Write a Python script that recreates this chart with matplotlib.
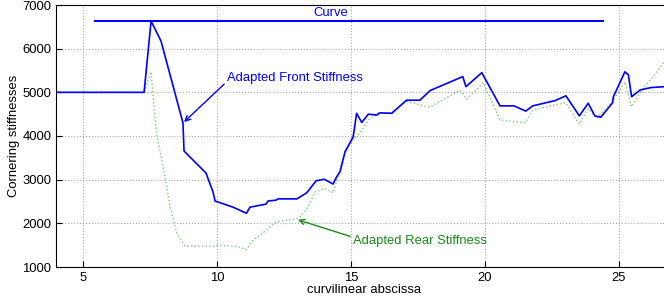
import matplotlib
matplotlib.use("Agg")
import matplotlib.pyplot as plt

plt.rcParams["font.family"] = ["Liberation Sans", "DejaVu Sans"]

# front stiffness (solid blue)
front_x = [4.0, 7.28, 7.54, 7.91, 8.73, 8.77, 9.59, 9.85, 9.93, 10.6, 11.1, 11.23,
           11.83, 11.9, 12.2, 12.28, 12.98, 13.35, 13.7, 14.0, 14.33, 14.46, 14.59,
           14.78, 15.08, 15.21, 15.4, 15.65, 15.96, 16.08, 16.52, 17.07, 17.57, 17.95,
           19.17, 19.29, 19.88, 20.56, 21.08, 21.52, 21.78, 22.61, 23.02, 23.52, 23.85,
           24.1, 24.32, 24.76, 24.79, 25.22, 25.35, 25.47, 25.78, 25.97, 26.21, 26.7]
front_y = [5000, 5000, 6633, 6175, 4300, 3656, 3150, 2720, 2510, 2370, 2230, 2370,
           2440, 2510, 2530, 2560, 2560, 2700, 2975, 3010, 2900, 3060, 3180,
           3640, 3980, 4520, 4310, 4500, 4480, 4530, 4520, 4820, 4820, 5040,
           5360, 5130, 5450, 4690, 4690, 4570, 4690, 4810, 4920, 4460, 4750,
           4460, 4430, 4760, 4900, 5470, 5400, 4900, 5050, 5080, 5110, 5130]

# rear stiffness (dotted green)
rear_x = [4.0, 7.28, 7.54, 7.74, 7.99, 8.25, 8.5, 8.81, 9.86, 9.99, 10.73, 11.1,
          11.36, 11.86, 12.23, 13.03, 13.35, 13.66, 14.03, 14.34, 14.46, 14.78, 15.08,
          15.4, 15.65, 16.02, 16.52, 17.07, 17.95, 19.07, 19.32, 19.94, 20.56, 21.49,
          21.8, 23.02, 23.52, 23.85, 24.16, 24.79, 25.22, 25.47, 25.84, 26.28, 26.7]
rear_y = [5000, 5000, 5470, 4060, 3300, 2380, 1770, 1480, 1470, 1500, 1470, 1400,
          1620, 1850, 2040, 2110, 2320, 2720, 2800, 2700, 2950, 3680, 3910,
          4120, 4370, 4530, 4530, 4790, 4660, 5050, 4840, 5220, 4370, 4300,
          4600, 4760, 4270, 4630, 4400, 4820, 5240, 4670, 5050, 5360, 5720]

# reference curve level
curve_x = [5.45, 24.39]
curve_y = [6630, 6630]

fs = 9.4

fig = plt.figure(figsize=(6.64, 3.05), dpi=100)
ax = fig.add_axes([56.2 / 664, 38 / 305, 616.4 / 664, 262 / 305])

ax.plot(rear_x, rear_y, color="#2ca02c", linestyle=":", linewidth=1.0, alpha=0.6)
ax.plot(front_x, front_y, color="#0000ff", linewidth=1.2)
ax.plot(curve_x, curve_y, color="#0000ff", linewidth=1.5)

ax.text(14.25, 6690, "Curve", color="#0000ff", fontsize=fs, ha="center", va="bottom")
ax.annotate("Adapted Front Stiffness", xy=(8.77, 4320), xytext=(10.37, 5330),
            color="#0000ff", fontsize=fs, va="center", ha="left",
            arrowprops=dict(arrowstyle="->", color="#0000ff", lw=1.0,
                            shrinkA=0, shrinkB=0, relpos=(0, 0.2)))
ax.annotate("Adapted Rear Stiffness", xy=(13.02, 2080), xytext=(15.07, 1600),
            color="#1a8c1a", fontsize=fs, va="center", ha="left",
            arrowprops=dict(arrowstyle="->", color="#1a8c1a", lw=1.0,
                            shrinkA=0, shrinkB=0, relpos=(0, 0.8)))

ax.set_xlim(4, 27)
ax.set_ylim(1000, 7000)
ax.set_xticks([5, 10, 15, 20, 25])
ax.set_yticks([1000, 2000, 3000, 4000, 5000, 6000, 7000])
ax.tick_params(direction="in", labelsize=fs, length=4)
ax.grid(True, linestyle=":", color="#aaaaaa", linewidth=0.8)
ax.spines["right"].set_visible(False)
ax.set_xlabel("curvilinear abscissa", fontsize=fs, labelpad=0)
ax.set_ylabel("Cornering stiffnesses", fontsize=fs, labelpad=2)

fig.savefig("out.png", dpi=100)
